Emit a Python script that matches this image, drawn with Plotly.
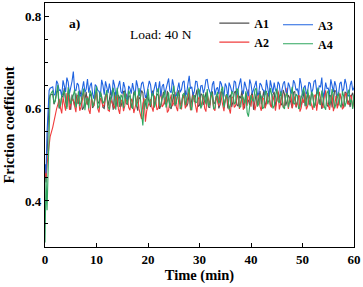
import plotly.graph_objects as go

# time axis (min)
t_early = [0.0, 0.2, 0.4, 0.6, 0.8, 1.0]
t_main = [1.5 + 0.5 * i for i in range(118)]
t_mid = [1.75 + 0.5 * i for i in range(118)]

a1_early = [0.46, 0.44, 0.50, 0.58, 0.62, 0.63]
a1_main = [
    0.632, 0.618, 0.641, 0.607, 0.626, 0.615, 0.638, 0.598, 0.621, 0.634,
    0.612, 0.629, 0.603, 0.637, 0.619, 0.625, 0.608, 0.640, 0.616, 0.627,
    0.601, 0.633, 0.620, 0.611, 0.636, 0.605, 0.624, 0.617, 0.639, 0.609,
    0.628, 0.614, 0.631, 0.596, 0.622, 0.635, 0.610, 0.626, 0.604, 0.640,
    0.618, 0.629, 0.607, 0.637, 0.613, 0.624, 0.600, 0.632, 0.619, 0.641,
    0.611, 0.627, 0.605, 0.636, 0.621, 0.615, 0.642, 0.608, 0.630, 0.617,
    0.625, 0.603, 0.638, 0.614, 0.628, 0.609, 0.634, 0.620, 0.601, 0.631,
    0.616, 0.639, 0.606, 0.623, 0.612, 0.635, 0.618, 0.627, 0.598, 0.633,
    0.621, 0.610, 0.640, 0.615, 0.626, 0.604, 0.637, 0.619, 0.629, 0.608,
    0.632, 0.617, 0.624, 0.602, 0.638, 0.613, 0.628, 0.620, 0.606, 0.635,
    0.614, 0.630, 0.609, 0.641, 0.622, 0.616, 0.633, 0.605, 0.627, 0.619,
    0.638, 0.611, 0.625, 0.603, 0.634, 0.618, 0.629, 0.612,
]
a1_mid = [
    0.610, 0.636, 0.601, 0.628, 0.645, 0.604, 0.619, 0.631, 0.606, 0.613,
    0.640, 0.598, 0.624, 0.609, 0.633, 0.602, 0.630, 0.611, 0.637, 0.603,
    0.626, 0.607, 0.641, 0.598, 0.617, 0.630, 0.605, 0.638, 0.612, 0.628,
    0.603, 0.637, 0.608, 0.625, 0.640, 0.599, 0.629, 0.612, 0.635, 0.606,
    0.633, 0.600, 0.627, 0.610, 0.639, 0.604, 0.622, 0.606, 0.634, 0.611,
    0.629, 0.640, 0.612, 0.603, 0.637, 0.628, 0.605, 0.633, 0.609, 0.636,
    0.604, 0.631, 0.610, 0.627, 0.601, 0.638, 0.607, 0.632, 0.625, 0.604,
    0.635, 0.609, 0.628, 0.640, 0.601, 0.622, 0.608, 0.637, 0.614, 0.606,
    0.639, 0.627, 0.602, 0.634, 0.609, 0.631, 0.605, 0.636, 0.612, 0.641,
    0.607, 0.630, 0.611, 0.636, 0.603, 0.628, 0.605, 0.639, 0.624, 0.609,
    0.633, 0.604, 0.637, 0.612, 0.600, 0.635, 0.608, 0.631, 0.603, 0.640,
    0.606, 0.632, 0.609, 0.637, 0.611, 0.604, 0.635, 0.620,
]
a2_early = [0.47, 0.45, 0.48, 0.50, 0.52, 0.54]
a2_main = [
    0.560, 0.588, 0.610, 0.602, 0.625, 0.596, 0.631, 0.608, 0.619, 0.593,
    0.627, 0.604, 0.640, 0.611, 0.598, 0.622, 0.606, 0.635, 0.592, 0.617,
    0.609, 0.628, 0.595, 0.614, 0.601, 0.633, 0.589, 0.620, 0.607, 0.624,
    0.597, 0.615, 0.603, 0.629, 0.585, 0.612, 0.572, 0.606, 0.621, 0.594,
    0.618, 0.602, 0.636, 0.609, 0.625, 0.597, 0.631, 0.613, 0.604, 0.627,
    0.599, 0.622, 0.610, 0.643, 0.605, 0.619, 0.592, 0.628, 0.614, 0.601,
    0.632, 0.608, 0.624, 0.596, 0.615, 0.637, 0.603, 0.620, 0.611, 0.590,
    0.626, 0.607, 0.634, 0.613, 0.598, 0.623, 0.642, 0.605, 0.618, 0.609,
    0.630, 0.596, 0.621, 0.612, 0.638, 0.603, 0.617, 0.625, 0.599, 0.633,
    0.608, 0.646, 0.615, 0.601, 0.627, 0.611, 0.594, 0.622, 0.636, 0.606,
    0.619, 0.598, 0.631, 0.613, 0.624, 0.602, 0.640, 0.609, 0.617, 0.595,
    0.628, 0.612, 0.621, 0.604, 0.635, 0.610, 0.626, 0.616,
]
a2_mid = [
    0.575, 0.600, 0.622, 0.590, 0.611, 0.634, 0.598, 0.621, 0.602, 0.630,
    0.596, 0.619, 0.607, 0.627, 0.589, 0.614, 0.632, 0.600, 0.624, 0.605,
    0.631, 0.597, 0.620, 0.609, 0.627, 0.600, 0.616, 0.595, 0.633, 0.603,
    0.622, 0.591, 0.618, 0.600, 0.578, 0.623, 0.596, 0.615, 0.604, 0.629,
    0.598, 0.625, 0.604, 0.620, 0.592, 0.618, 0.606, 0.637, 0.595, 0.612,
    0.630, 0.601, 0.626, 0.597, 0.634, 0.608, 0.621, 0.603, 0.630, 0.594,
    0.617, 0.636, 0.600, 0.627, 0.606, 0.623, 0.595, 0.631, 0.599, 0.625,
    0.603, 0.621, 0.600, 0.629, 0.614, 0.607, 0.618, 0.630, 0.597, 0.635,
    0.605, 0.624, 0.601, 0.631, 0.608, 0.628, 0.596, 0.640, 0.611, 0.603,
    0.627, 0.600, 0.633, 0.619, 0.605, 0.636, 0.602, 0.613, 0.599, 0.630,
    0.604, 0.627, 0.596, 0.637, 0.606, 0.629, 0.612, 0.598, 0.633, 0.607,
    0.601, 0.634, 0.599, 0.628, 0.611, 0.630, 0.603, 0.622,
]
a3_early = [0.48, 0.46, 0.55, 0.62, 0.64, 0.645]
a3_main = [
    0.648, 0.632, 0.655, 0.641, 0.662, 0.637, 0.658, 0.645, 0.681, 0.639,
    0.652, 0.628, 0.660, 0.643, 0.635, 0.657, 0.622, 0.649, 0.638, 0.663,
    0.631, 0.646, 0.655, 0.625, 0.651, 0.640, 0.661, 0.633, 0.647, 0.619,
    0.644, 0.656, 0.630, 0.649, 0.637, 0.659, 0.624, 0.645, 0.652, 0.634,
    0.658, 0.641, 0.627, 0.654, 0.646, 0.666, 0.635, 0.650, 0.629, 0.657,
    0.642, 0.661, 0.633, 0.672, 0.648, 0.638, 0.659, 0.626, 0.651, 0.644,
    0.664, 0.636, 0.653, 0.630, 0.647, 0.660, 0.639, 0.655, 0.623, 0.649,
    0.637, 0.658, 0.643, 0.666, 0.632, 0.650, 0.628, 0.654, 0.645, 0.661,
    0.634, 0.652, 0.640, 0.663, 0.627, 0.648, 0.657, 0.636, 0.653, 0.641,
    0.660, 0.631, 0.649, 0.638, 0.656, 0.644, 0.667, 0.629, 0.651, 0.639,
    0.655, 0.642, 0.662, 0.633, 0.648, 0.625, 0.657, 0.645, 0.664, 0.637,
    0.650, 0.632, 0.659, 0.643, 0.654, 0.628, 0.661, 0.646,
]
a3_mid = [
    0.630, 0.661, 0.640, 0.627, 0.650, 0.668, 0.633, 0.660, 0.642, 0.656,
    0.629, 0.648, 0.636, 0.665, 0.650, 0.632, 0.653, 0.640, 0.626, 0.651,
    0.660, 0.634, 0.641, 0.663, 0.629, 0.654, 0.637, 0.658, 0.625, 0.650,
    0.633, 0.640, 0.662, 0.627, 0.655, 0.643, 0.632, 0.661, 0.628, 0.651,
    0.637, 0.660, 0.649, 0.631, 0.655, 0.639, 0.664, 0.628, 0.646, 0.636,
    0.658, 0.630, 0.654, 0.644, 0.629, 0.660, 0.641, 0.650, 0.634, 0.663,
    0.645, 0.629, 0.660, 0.643, 0.632, 0.654, 0.627, 0.648, 0.657, 0.638,
    0.661, 0.630, 0.652, 0.640, 0.659, 0.636, 0.664, 0.633, 0.651, 0.629,
    0.656, 0.642, 0.630, 0.647, 0.662, 0.635, 0.641, 0.659, 0.628, 0.655,
    0.638, 0.657, 0.633, 0.662, 0.640, 0.630, 0.653, 0.646, 0.632, 0.658,
    0.634, 0.660, 0.639, 0.650, 0.668, 0.636, 0.644, 0.631, 0.652, 0.660,
    0.629, 0.655, 0.637, 0.665, 0.630, 0.651, 0.640, 0.657,
]
a4_early = [0.31, 0.45, 0.38, 0.47, 0.58, 0.63]
a4_main = [
    0.640, 0.618, 0.652, 0.608, 0.635, 0.622, 0.647, 0.611, 0.630, 0.603,
    0.638, 0.615, 0.644, 0.620, 0.601, 0.633, 0.612, 0.649, 0.606, 0.627,
    0.617, 0.641, 0.598, 0.629, 0.613, 0.646, 0.604, 0.625, 0.637, 0.610,
    0.632, 0.600, 0.639, 0.616, 0.628, 0.564, 0.621, 0.643, 0.607, 0.631,
    0.614, 0.645, 0.609, 0.626, 0.603, 0.636, 0.619, 0.650, 0.611, 0.628,
    0.605, 0.634, 0.622, 0.647, 0.597, 0.630, 0.615, 0.640, 0.608, 0.625,
    0.643, 0.612, 0.629, 0.602, 0.637, 0.618, 0.648, 0.621, 0.626, 0.609,
    0.633, 0.614, 0.641, 0.605, 0.624, 0.638, 0.583, 0.630, 0.616, 0.645,
    0.611, 0.627, 0.604, 0.639, 0.620, 0.632, 0.607, 0.644, 0.613, 0.626,
    0.600, 0.635, 0.619, 0.648, 0.610, 0.628, 0.603, 0.637, 0.617, 0.642,
    0.606, 0.631, 0.614, 0.646, 0.609, 0.623, 0.598, 0.640, 0.618, 0.629,
    0.611, 0.636, 0.603, 0.627, 0.615, 0.642, 0.620, 0.631,
]
a4_mid = [
    0.612, 0.635, 0.603, 0.628, 0.640, 0.600, 0.626, 0.618, 0.642, 0.614,
    0.606, 0.631, 0.597, 0.624, 0.640, 0.605, 0.630, 0.601, 0.637, 0.612,
    0.633, 0.605, 0.626, 0.646, 0.598, 0.619, 0.631, 0.602, 0.622, 0.640,
    0.607, 0.629, 0.604, 0.645, 0.590, 0.612, 0.600, 0.618, 0.634, 0.603,
    0.638, 0.606, 0.627, 0.640, 0.615, 0.602, 0.632, 0.609, 0.637, 0.600,
    0.631, 0.608, 0.641, 0.603, 0.626, 0.613, 0.644, 0.601, 0.633, 0.610,
    0.605, 0.637, 0.600, 0.628, 0.612, 0.641, 0.603, 0.632, 0.599, 0.638,
    0.610, 0.644, 0.603, 0.629, 0.612, 0.592, 0.610, 0.620, 0.641, 0.605,
    0.633, 0.600, 0.636, 0.610, 0.645, 0.601, 0.626, 0.617, 0.638, 0.604,
    0.628, 0.603, 0.640, 0.613, 0.632, 0.600, 0.624, 0.646, 0.606, 0.619,
    0.637, 0.602, 0.629, 0.611, 0.640, 0.604, 0.634, 0.607, 0.643, 0.601,
    0.627, 0.609, 0.638, 0.605, 0.632, 0.613, 0.600, 0.625,
]


def merge(early, main, mid):
    xs, ys = list(t_early), list(early)
    for tm, vm, td, vd in zip(t_main, main, t_mid, mid):
        xs += [tm, td]
        ys += [vm, vd]
    return xs, ys


series = [
    ("A1", a1_early, a1_main, a1_mid, "#505050", "legend"),
    ("A2", a2_early, a2_main, a2_mid, "#f03c3c", "legend"),
    ("A3", a3_early, a3_main, a3_mid, "#1f63e0", "legend2"),
    ("A4", a4_early, a4_main, a4_mid, "#2ea65e", "legend2"),
]

FONT = "Liberation Serif"

fig = go.Figure()
for name, early, main, mid, color, leg in series:
    xs, ys = merge(early, main, mid)
    fig.add_trace(go.Scatter(
        x=xs, y=ys, mode="lines", name=name,
        line=dict(color=color, width=1.1), legend=leg,
    ))

legend_common = dict(
    bgcolor="rgba(0,0,0,0)", borderwidth=0,
    font=dict(family=FONT, size=12, color="black", weight="bold"),
    itemwidth=30, tracegroupgap=0,
    xanchor="left", yanchor="top",
)

fig.update_layout(
    width=363, height=287,
    margin=dict(l=45, r=9, t=3, b=40),
    plot_bgcolor="white", paper_bgcolor="white",
    font=dict(family=FONT, color="black"),
    showlegend=True,
    legend=dict(x=0.548, y=0.977, **legend_common),
    legend2=dict(x=0.754, y=0.97, **legend_common),
    xaxis=dict(
        range=[0, 60], tickmode="linear", tick0=0, dtick=10,
        showline=True, linecolor="black", linewidth=1.2, mirror=True,
        ticks="inside", ticklen=4, tickcolor="black",
        showgrid=False, zeroline=False,
        tickfont=dict(family=FONT, size=13, weight="bold"),
        title=dict(text="Time (min)", font=dict(family=FONT, size=14.5, weight="bold"), standoff=4),
    ),
    yaxis=dict(
        range=[0.3, 0.83], tickmode="linear", tick0=0.4, dtick=0.2,
        showline=True, linecolor="black", linewidth=1.2, mirror=True,
        ticks="inside", ticklen=4, tickcolor="black",
        minor=dict(dtick=0.05, tick0=0.3, ticks="inside", ticklen=2.5, tickcolor="black"),
        showgrid=False, zeroline=False,
        tickfont=dict(family=FONT, size=13, weight="bold"),
        title=dict(text="Friction coefficient", font=dict(family=FONT, size=14.5, weight="bold"), standoff=6),
    ),
    annotations=[
        dict(text="a)", xref="paper", yref="paper", x=0.072, y=0.918,
             xanchor="left", yanchor="middle", showarrow=False,
             font=dict(family=FONT, size=13.5, weight="bold", color="black")),
        dict(text="Load: 40 N", xref="paper", yref="paper", x=0.268, y=0.872,
             xanchor="left", yanchor="middle", showarrow=False,
             font=dict(family=FONT, size=13.5, color="black")),
    ],
)

fig.write_html(
    "out.html",
    config={"displayModeBar": False},
    post_script="document.body.style.margin='0';document.body.style.overflow='hidden';",
)
